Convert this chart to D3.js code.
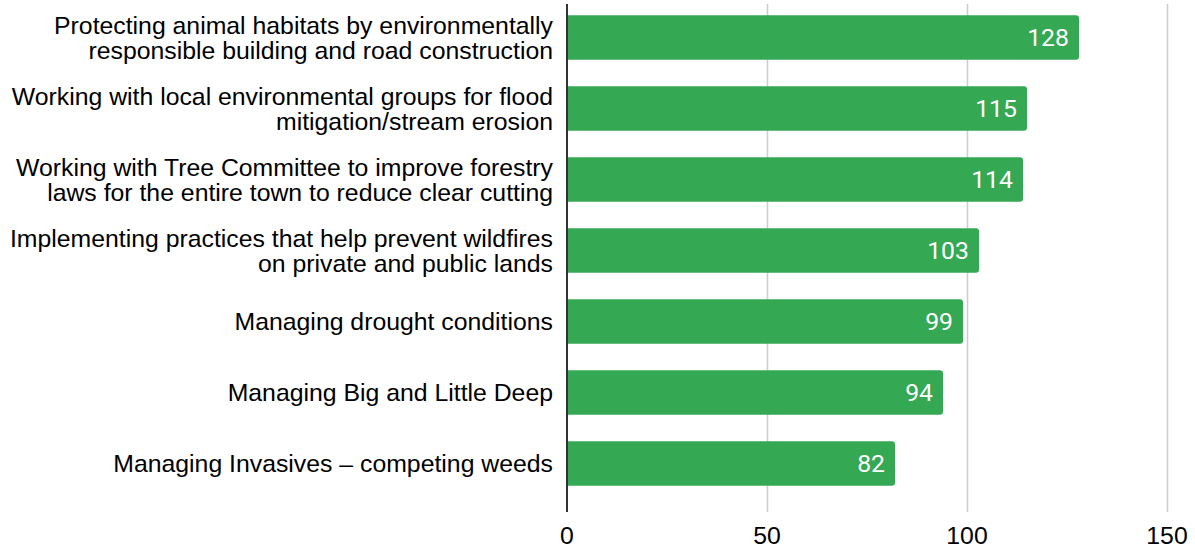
<!DOCTYPE html>
<html>
<head>
<meta charset="utf-8">
<script src="https://cdn.jsdelivr.net/npm/d3@7"></script>
<style>
body{margin:0;background:#fff;}
svg{display:block;}
</style>
</head>
<body>
<div class="bod"></div>
<script>
// data
var categories = [
  "Protecting animal habitats by environmentally\nresponsible building and road construction",
  "Working with local environmental groups for flood\nmitigation/stream erosion",
  "Working with Tree Committee to improve forestry\nlaws for the entire town to reduce clear cutting",
  "Implementing practices that help prevent wildfires\non private and public lands",
  "Managing drought conditions",
  "Managing Big and Little Deep",
  "Managing Invasives – competing weeds"
]
var values = [128, 115, 114, 103, 99, 94, 82]
var tickValues = [0, 50, 100, 150]

var size = {width:1195, height:550, left:567, right:1167, top:2, bottom:499, gridTop:4, gridBottom:512}
var fontSize = '24.8px'

const svg = d3.select('.bod')
  .append('svg')
  .attr('width', size.width)
  .attr('height', size.height)

let x = d3.scaleLinear().domain([0,150]).range([size.left, size.right])
let y = d3.scaleBand().domain(categories).range([size.top, size.bottom]).paddingInner(0.37).paddingOuter(0.185)

//gridlines
svg.selectAll('.grid')
  .data(tickValues.filter(d=>d>0))
  .enter()
  .append('line')
  .attr('x1', d=>x(d)+0.5).attr('x2', d=>x(d)+0.5)
  .attr('y1', size.gridTop).attr('y2', size.gridBottom)
  .attr('stroke','#cccccc').attr('stroke-width',1.5)

//bars - rounded right end only
let r = 3
svg.selectAll('.bar')
  .data(values)
  .enter()
  .append('path')
  .attr('fill','#34a853')
  .attr('d',(d,i)=>{
    let x0 = x(0), x1 = x(d), y0 = y(categories[i]), h = y.bandwidth()
    return `M${x0},${y0}H${x1-r}Q${x1},${y0} ${x1},${y0+r}V${y0+h-r}Q${x1},${y0+h} ${x1-r},${y0+h}H${x0}Z`
  })

//value labels
svg.selectAll('.val')
  .data(values)
  .enter()
  .append('text')
  .attr('x', d=>x(d)-10)
  .attr('y', (d,i)=>y(categories[i])+y.bandwidth()/2)
  .attr('dy','0.36em')
  .attr('text-anchor','end')
  .attr('fill','#fff')
  .style('font-family','Roboto, sans-serif')
  .style('font-size',fontSize)
  .text(d=>d)

//zero axis line
svg.append('line')
  .attr('x1', x(0)).attr('x2', x(0))
  .attr('y1', size.gridTop).attr('y2', size.gridBottom)
  .attr('stroke','#333').attr('stroke-width',2)

//category labels
let cats = svg.selectAll('.cat')
  .data(categories)
  .enter()
  .append('text')
  .attr('text-anchor','end')
  .attr('fill','#000')
  .style('font-family','"Liberation Sans", Arial, sans-serif')
  .style('font-size',fontSize)
cats.each(function(c){
  let lines = c.split('\n')
  let cy = y(c) + y.bandwidth()/2
  let lh = 25
  d3.select(this).selectAll('tspan')
    .data(lines)
    .enter()
    .append('tspan')
    .attr('x', 553)
    .attr('y', (l,j)=> cy + (j-(lines.length-1)/2)*lh)
    .attr('dy','0.36em')
    .text(l=>l)
})

//tick labels
svg.selectAll('.tick')
  .data(tickValues)
  .enter()
  .append('text')
  .attr('x', d=>x(d))
  .attr('y', 535)
  .attr('dy','0.36em')
  .attr('text-anchor','middle')
  .attr('fill','#000')
  .style('font-family','"Liberation Sans", Arial, sans-serif')
  .style('font-size',fontSize)
  .text(d=>d)
</script>
</body>
</html>
